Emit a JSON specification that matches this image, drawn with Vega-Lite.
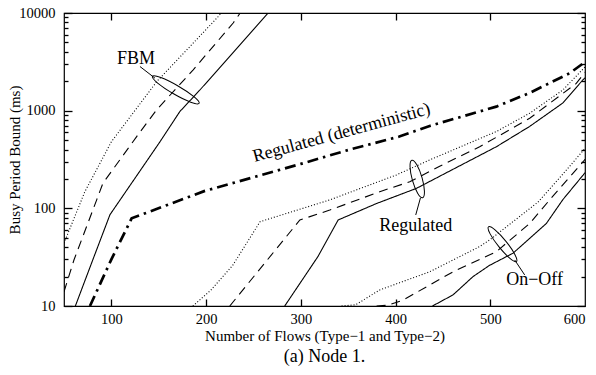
{
  "$schema": "https://vega.github.io/schema/vega-lite/v6.json",
  "width": 521,
  "height": 293,
  "autosize": {"type": "none"},
  "padding": {"left": 64, "top": 13, "right": 11, "bottom": 69},
  "background": "white",
  "config": {
    "font": "Liberation Serif",
    "view": {"stroke": "black", "strokeWidth": 1.2},
    "axis": {
      "domain": false,
      "grid": false,
      "ticks": true,
      "zindex": 2,
      "tickColor": "#000000",
      "tickOpacity": 1,
      "tickWidth": 1.3,
      "labelColor": "black",
      "titleColor": "black",
      "labelFont": "Liberation Serif",
      "titleFont": "Liberation Serif",
      "labelFontSize": 14.5,
      "titleFontSize": 15,
      "titleFontWeight": "normal"
    }
  },
  "title": {
    "text": "(a) Node 1.",
    "orient": "bottom",
    "font": "Liberation Serif",
    "fontSize": 18,
    "fontWeight": "normal",
    "color": "black",
    "offset": 4
  },
  "datasets": {
    "curves": [
      {"traffic": "FBM", "case": "A", "flows": 62, "bound_ms": 10},
      {"traffic": "FBM", "case": "A", "flows": 80, "bound_ms": 29},
      {"traffic": "FBM", "case": "A", "flows": 98.5, "bound_ms": 86},
      {"traffic": "FBM", "case": "A", "flows": 151.3, "bound_ms": 480},
      {"traffic": "FBM", "case": "A", "flows": 172.3, "bound_ms": 980},
      {"traffic": "FBM", "case": "A", "flows": 193.5, "bound_ms": 1630},
      {"traffic": "FBM", "case": "A", "flows": 225, "bound_ms": 3600},
      {"traffic": "FBM", "case": "A", "flows": 265.5, "bound_ms": 10000},
      {"traffic": "FBM", "case": "B", "flows": 50, "bound_ms": 14},
      {"traffic": "FBM", "case": "B", "flows": 60.5, "bound_ms": 29.6},
      {"traffic": "FBM", "case": "B", "flows": 84.5, "bound_ms": 122},
      {"traffic": "FBM", "case": "B", "flows": 91, "bound_ms": 180},
      {"traffic": "FBM", "case": "B", "flows": 126.7, "bound_ms": 543},
      {"traffic": "FBM", "case": "B", "flows": 147.8, "bound_ms": 1020},
      {"traffic": "FBM", "case": "B", "flows": 186.4, "bound_ms": 2620},
      {"traffic": "FBM", "case": "B", "flows": 228.6, "bound_ms": 7900},
      {"traffic": "FBM", "case": "B", "flows": 236, "bound_ms": 10000},
      {"traffic": "FBM", "case": "C", "flows": 50, "bound_ms": 44},
      {"traffic": "FBM", "case": "C", "flows": 72, "bound_ms": 148},
      {"traffic": "FBM", "case": "C", "flows": 100, "bound_ms": 480},
      {"traffic": "FBM", "case": "C", "flows": 148, "bound_ms": 1990},
      {"traffic": "FBM", "case": "C", "flows": 212, "bound_ms": 9000},
      {"traffic": "FBM", "case": "C", "flows": 216, "bound_ms": 10000},
      {"traffic": "Regulated (deterministic)", "case": "D", "flows": 77.4, "bound_ms": 10},
      {"traffic": "Regulated (deterministic)", "case": "D", "flows": 100, "bound_ms": 30},
      {"traffic": "Regulated (deterministic)", "case": "D", "flows": 121.4, "bound_ms": 79},
      {"traffic": "Regulated (deterministic)", "case": "D", "flows": 198, "bound_ms": 150},
      {"traffic": "Regulated (deterministic)", "case": "D", "flows": 300, "bound_ms": 285},
      {"traffic": "Regulated (deterministic)", "case": "D", "flows": 351.7, "bound_ms": 400},
      {"traffic": "Regulated (deterministic)", "case": "D", "flows": 404, "bound_ms": 543},
      {"traffic": "Regulated (deterministic)", "case": "D", "flows": 436, "bound_ms": 698},
      {"traffic": "Regulated (deterministic)", "case": "D", "flows": 506.4, "bound_ms": 1100},
      {"traffic": "Regulated (deterministic)", "case": "D", "flows": 541.6, "bound_ms": 1520},
      {"traffic": "Regulated (deterministic)", "case": "D", "flows": 583.8, "bound_ms": 2420},
      {"traffic": "Regulated (deterministic)", "case": "D", "flows": 600, "bound_ms": 3150},
      {"traffic": "Regulated", "case": "A", "flows": 283, "bound_ms": 10},
      {"traffic": "Regulated", "case": "A", "flows": 318, "bound_ms": 32},
      {"traffic": "Regulated", "case": "A", "flows": 339.4, "bound_ms": 76},
      {"traffic": "Regulated", "case": "A", "flows": 379.9, "bound_ms": 112},
      {"traffic": "Regulated", "case": "A", "flows": 422, "bound_ms": 160},
      {"traffic": "Regulated", "case": "A", "flows": 460, "bound_ms": 249},
      {"traffic": "Regulated", "case": "A", "flows": 506.4, "bound_ms": 427},
      {"traffic": "Regulated", "case": "A", "flows": 541.6, "bound_ms": 690},
      {"traffic": "Regulated", "case": "A", "flows": 576.7, "bound_ms": 1200},
      {"traffic": "Regulated", "case": "A", "flows": 597.8, "bound_ms": 2070},
      {"traffic": "Regulated", "case": "A", "flows": 600, "bound_ms": 2170},
      {"traffic": "Regulated", "case": "B", "flows": 225, "bound_ms": 10},
      {"traffic": "Regulated", "case": "B", "flows": 299, "bound_ms": 76},
      {"traffic": "Regulated", "case": "B", "flows": 330.6, "bound_ms": 96},
      {"traffic": "Regulated", "case": "B", "flows": 383.3, "bound_ms": 148},
      {"traffic": "Regulated", "case": "B", "flows": 415, "bound_ms": 187},
      {"traffic": "Regulated", "case": "B", "flows": 446.6, "bound_ms": 270},
      {"traffic": "Regulated", "case": "B", "flows": 488.8, "bound_ms": 427},
      {"traffic": "Regulated", "case": "B", "flows": 541.6, "bound_ms": 835},
      {"traffic": "Regulated", "case": "B", "flows": 590.8, "bound_ms": 1900},
      {"traffic": "Regulated", "case": "B", "flows": 600, "bound_ms": 2480},
      {"traffic": "Regulated", "case": "C", "flows": 186, "bound_ms": 10},
      {"traffic": "Regulated", "case": "C", "flows": 205, "bound_ms": 14.5},
      {"traffic": "Regulated", "case": "C", "flows": 228, "bound_ms": 26},
      {"traffic": "Regulated", "case": "C", "flows": 257, "bound_ms": 73},
      {"traffic": "Regulated", "case": "C", "flows": 330.6, "bound_ms": 122},
      {"traffic": "Regulated", "case": "C", "flows": 401, "bound_ms": 220},
      {"traffic": "Regulated", "case": "C", "flows": 436, "bound_ms": 313},
      {"traffic": "Regulated", "case": "C", "flows": 506.4, "bound_ms": 611},
      {"traffic": "Regulated", "case": "C", "flows": 541.6, "bound_ms": 942},
      {"traffic": "Regulated", "case": "C", "flows": 576.7, "bound_ms": 1630},
      {"traffic": "Regulated", "case": "C", "flows": 600, "bound_ms": 2800},
      {"traffic": "On-Off", "case": "A", "flows": 439, "bound_ms": 10},
      {"traffic": "On-Off", "case": "A", "flows": 460.7, "bound_ms": 13},
      {"traffic": "On-Off", "case": "A", "flows": 481.8, "bound_ms": 20},
      {"traffic": "On-Off", "case": "A", "flows": 499, "bound_ms": 26},
      {"traffic": "On-Off", "case": "A", "flows": 524, "bound_ms": 34.7},
      {"traffic": "On-Off", "case": "A", "flows": 559.2, "bound_ms": 70},
      {"traffic": "On-Off", "case": "A", "flows": 576.7, "bound_ms": 123},
      {"traffic": "On-Off", "case": "A", "flows": 598, "bound_ms": 219},
      {"traffic": "On-Off", "case": "A", "flows": 600, "bound_ms": 232},
      {"traffic": "On-Off", "case": "B", "flows": 380, "bound_ms": 10},
      {"traffic": "On-Off", "case": "B", "flows": 392, "bound_ms": 10.2},
      {"traffic": "On-Off", "case": "B", "flows": 408, "bound_ms": 11.5},
      {"traffic": "On-Off", "case": "B", "flows": 460.7, "bound_ms": 22.4},
      {"traffic": "On-Off", "case": "B", "flows": 506.4, "bound_ms": 36},
      {"traffic": "On-Off", "case": "B", "flows": 541.6, "bound_ms": 70},
      {"traffic": "On-Off", "case": "B", "flows": 562.7, "bound_ms": 122},
      {"traffic": "On-Off", "case": "B", "flows": 598, "bound_ms": 300},
      {"traffic": "On-Off", "case": "B", "flows": 600, "bound_ms": 318},
      {"traffic": "On-Off", "case": "C", "flows": 343, "bound_ms": 10},
      {"traffic": "On-Off", "case": "C", "flows": 358, "bound_ms": 10.3},
      {"traffic": "On-Off", "case": "C", "flows": 383.3, "bound_ms": 14.6},
      {"traffic": "On-Off", "case": "C", "flows": 436, "bound_ms": 22.4},
      {"traffic": "On-Off", "case": "C", "flows": 488.8, "bound_ms": 40.6},
      {"traffic": "On-Off", "case": "C", "flows": 500, "bound_ms": 48},
      {"traffic": "On-Off", "case": "C", "flows": 550, "bound_ms": 115},
      {"traffic": "On-Off", "case": "C", "flows": 575, "bound_ms": 215},
      {"traffic": "On-Off", "case": "C", "flows": 600, "bound_ms": 410}
    ],
    "labels": [
      {"text": "FBM", "flows": 126, "bound_ms": 3400},
      {"text": "Regulated", "flows": 421.3, "bound_ms": 66},
      {"text": "On−Off", "flows": 546.8, "bound_ms": 18.5}
    ],
    "det_label": [
      {"text": "Regulated (deterministic)", "flows": 343, "bound_ms": 590}
    ],
    "leaders": [
      {"traffic": "FBM", "flows": 130.2, "bound_ms": 2831, "flows2": 146, "bound_ms2": 2153},
      {"traffic": "Regulated", "flows": 426.3, "bound_ms": 128, "flows2": 421.3, "bound_ms2": 85.5},
      {"traffic": "On-Off", "flows": 525.8, "bound_ms": 29.6, "flows2": 536.3, "bound_ms2": 20.8}
    ],
    "ring_fbm": [{"flows": 168, "bound_ms": 1633}],
    "ring_reg": [{"flows": 422.9, "bound_ms": 200}],
    "ring_onoff": [{"flows": 512.9, "bound_ms": 43}]
  },
  "layer": [
    {
      "data": {"name": "curves"},
      "transform": [{"filter": "datum.case !== 'D'"}],
      "mark": {"type": "line", "clip": true, "color": "black", "strokeCap": "butt", "strokeWidth": 1.1},
      "encoding": {
        "x": {
          "field": "flows", "type": "quantitative",
          "scale": {"type": "linear", "domain": [50, 600], "nice": false, "zero": false},
          "axis": {
            "orient": "bottom",
            "values": [100, 200, 300, 400, 500, 600],
            "ticks": false,
            "labelPadding": 6,
            "title": "Number of Flows (Type−1 and Type−2)",
            "titlePadding": 3
          }
        },
        "y": {
          "field": "bound_ms", "type": "quantitative",
          "scale": {"type": "log", "domain": [10, 10000], "nice": false},
          "axis": {
            "orient": "left",
            "values": [10, 100, 1000, 10000],
            "format": "d",
            "ticks": false,
            "labelPadding": 9,
            "title": "Busy Period Bound (ms)",
            "titlePadding": -4
          }
        },
        "detail": {"field": "traffic", "type": "nominal"},
        "strokeDash": {
          "field": "case", "type": "nominal",
          "scale": {"domain": ["A", "B", "C"], "range": [[1, 0], [9, 6], [1, 2]]},
          "legend": null
        }
      }
    },
    {
      "data": {"name": "curves"},
      "transform": [{"filter": "datum.case === 'D'"}],
      "mark": {"type": "line", "clip": true, "color": "black", "strokeCap": "butt", "strokeWidth": 2.7, "strokeDash": [11, 5, 2.5, 5]},
      "encoding": {
        "x": {
          "field": "flows", "type": "quantitative",
          "scale": {"type": "linear", "domain": [50, 600], "nice": false, "zero": false},
          "axis": {"orient": "top", "offset": -293, "values": [100, 200, 300, 400, 500], "ticks": true, "tickSize": 7, "labels": false, "title": null}
        },
        "y": {
          "field": "bound_ms", "type": "quantitative",
          "scale": {"type": "log", "domain": [10, 10000], "nice": false},
          "axis": {"orient": "right", "offset": -521, "values": [10, 100, 1000, 10000], "ticks": true, "tickSize": 8, "labels": false, "title": null}
        }
      }
    },
    {
      "data": {"name": "labels"},
      "mark": {"type": "text", "font": "Liberation Serif", "fontSize": 18, "color": "black", "align": "center", "baseline": "middle"},
      "encoding": {
        "x": {
          "field": "flows", "type": "quantitative",
          "scale": {"type": "linear", "domain": [50, 600], "nice": false, "zero": false},
          "axis": {"orient": "bottom", "offset": -293, "values": [100, 200, 300, 400, 500], "ticks": true, "tickSize": 7, "labels": false, "title": null}
        },
        "y": {
          "field": "bound_ms", "type": "quantitative",
          "scale": {"type": "log", "domain": [10, 10000], "nice": false},
          "axis": {"orient": "right", "offset": -521, "values": [20, 30, 40, 50, 60, 70, 80, 90, 200, 300, 400, 500, 600, 700, 800, 900, 2000, 3000, 4000, 5000, 6000, 7000, 8000, 9000], "ticks": true, "tickSize": 4, "labels": false, "title": null}
        },
        "text": {"field": "text", "type": "nominal"}
      }
    },
    {
      "data": {"name": "det_label"},
      "mark": {"type": "text", "font": "Liberation Serif", "fontSize": 18, "color": "black", "align": "center", "baseline": "middle", "angle": -15.3},
      "encoding": {
        "x": {"field": "flows", "type": "quantitative", "scale": {"type": "linear", "domain": [50, 600], "nice": false, "zero": false}, "axis": null},
        "y": {
          "field": "bound_ms", "type": "quantitative",
          "scale": {"type": "log", "domain": [10, 10000], "nice": false},
          "axis": {"orient": "left", "offset": -521, "values": [10, 100, 1000, 10000], "ticks": true, "tickSize": 8, "labels": false, "title": null}
        },
        "text": {"field": "text", "type": "nominal"}
      }
    },
    {
      "data": {"name": "leaders"},
      "mark": {"type": "rule", "color": "black", "strokeWidth": 1},
      "encoding": {
        "x": {"field": "flows", "type": "quantitative", "scale": {"type": "linear", "domain": [50, 600], "nice": false, "zero": false}, "axis": null},
        "y": {
          "field": "bound_ms", "type": "quantitative",
          "scale": {"type": "log", "domain": [10, 10000], "nice": false},
          "axis": {"orient": "left", "offset": -521, "values": [20, 30, 40, 50, 60, 70, 80, 90, 200, 300, 400, 500, 600, 700, 800, 900, 2000, 3000, 4000, 5000, 6000, 7000, 8000, 9000], "ticks": true, "tickSize": 4, "labels": false, "title": null}
        },
        "x2": {"field": "flows2"},
        "y2": {"field": "bound_ms2"}
      }
    },
    {
      "data": {"name": "ring_fbm"},
      "mark": {"type": "point", "filled": false, "stroke": "black", "strokeWidth": 1, "opacity": 1, "shape": "M-1,0A1,0.167,0,1,0,1,0A1,0.167,0,1,0,-1,0Z", "size": 2916, "angle": 30},
      "encoding": {
        "x": {"field": "flows", "type": "quantitative", "scale": {"type": "linear", "domain": [50, 600], "nice": false, "zero": false}, "axis": null},
        "y": {"field": "bound_ms", "type": "quantitative", "scale": {"type": "log", "domain": [10, 10000], "nice": false}, "axis": null}
      }
    },
    {
      "data": {"name": "ring_reg"},
      "mark": {"type": "point", "filled": false, "stroke": "black", "strokeWidth": 1, "opacity": 1, "shape": "M-1,0A1,0.256,0,1,0,1,0A1,0.256,0,1,0,-1,0Z", "size": 1521, "angle": 74},
      "encoding": {
        "x": {"field": "flows", "type": "quantitative", "scale": {"type": "linear", "domain": [50, 600], "nice": false, "zero": false}, "axis": null},
        "y": {"field": "bound_ms", "type": "quantitative", "scale": {"type": "log", "domain": [10, 10000], "nice": false}, "axis": null}
      }
    },
    {
      "data": {"name": "ring_onoff"},
      "mark": {"type": "point", "filled": false, "stroke": "black", "strokeWidth": 1, "opacity": 1, "shape": "M-1,0A1,0.2,0,1,0,1,0A1,0.2,0,1,0,-1,0Z", "size": 1989, "angle": 51},
      "encoding": {
        "x": {"field": "flows", "type": "quantitative", "scale": {"type": "linear", "domain": [50, 600], "nice": false, "zero": false}, "axis": null},
        "y": {"field": "bound_ms", "type": "quantitative", "scale": {"type": "log", "domain": [10, 10000], "nice": false}, "axis": null}
      }
    }
  ],
  "resolve": {"axis": {"x": "independent", "y": "independent"}}
}
